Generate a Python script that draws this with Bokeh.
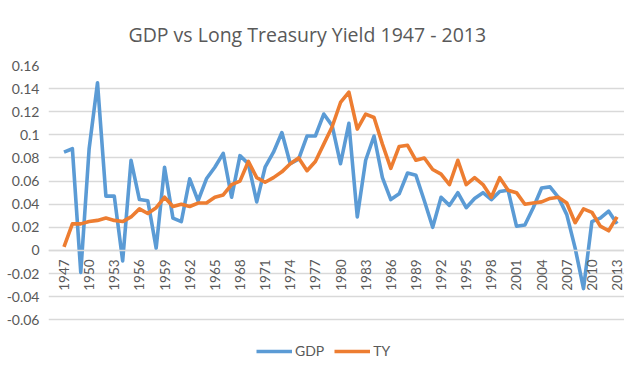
import math
from bokeh.plotting import figure
from bokeh.models import (Range1d, FixedTicker, PrintfTickFormatter, Legend, LegendItem)
from bokeh.embed import file_html
from bokeh.resources import INLINE

years = list(range(1947, 2014))
gdp = [0.085, 0.088, -0.019, 0.088, 0.145, 0.047, 0.047, -0.009, 0.078, 0.044,
       0.043, 0.002, 0.072, 0.028, 0.025, 0.062, 0.043, 0.062, 0.072, 0.084,
       0.046, 0.082, 0.075, 0.042, 0.072, 0.085, 0.102, 0.075, 0.079, 0.099,
       0.099, 0.118, 0.108, 0.075, 0.110, 0.029, 0.078, 0.099, 0.063, 0.044,
       0.049, 0.067, 0.065, 0.043, 0.020, 0.046, 0.039, 0.050, 0.037, 0.045,
       0.050, 0.044, 0.051, 0.052, 0.021, 0.022, 0.037, 0.054, 0.055, 0.046,
       0.031, 0.002, -0.033, 0.025, 0.028, 0.034, 0.023]
ty = [0.003, 0.023, 0.023, 0.025, 0.026, 0.028, 0.026, 0.025, 0.029, 0.036,
      0.032, 0.037, 0.046, 0.038, 0.040, 0.038, 0.041, 0.041, 0.046, 0.048,
      0.057, 0.060, 0.077, 0.063, 0.059, 0.063, 0.068, 0.075, 0.080, 0.069,
      0.077, 0.092, 0.107, 0.128, 0.137, 0.105, 0.118, 0.115, 0.092, 0.071,
      0.090, 0.091, 0.078, 0.080, 0.070, 0.066, 0.057, 0.078, 0.057, 0.063,
      0.057, 0.046, 0.063, 0.052, 0.050, 0.040, 0.041, 0.042, 0.045, 0.046,
      0.041, 0.024, 0.036, 0.033, 0.021, 0.017, 0.029]
x_ticks = list(range(1947, 2014, 3))
y_ticks = [-0.06, -0.04, -0.02, 0, 0.02, 0.04, 0.06, 0.08, 0.1, 0.12, 0.14, 0.16]

FONT = "Lato"
TFONT = "Open Sans"
GREY = "#595959"
GRID = "#d9d9d9"

p = figure(width=624, height=363, output_backend="svg", toolbar_location=None,
           x_range=Range1d(1945.15, 2013.89), y_range=Range1d(-0.0978, 0.16),
           min_border_left=48, min_border_right=0, min_border_top=65,
           min_border_bottom=0)
p.outline_line_color = None
p.background_fill_color = "white"
p.border_fill_color = "white"

p.title.text = "GDP vs Long Treasury Yield 1947 - 2013"
p.title.align = "left"
p.title.offset = 80
p.title.text_font = TFONT
p.title.text_font_size = "19.5px"
p.title.text_font_style = "normal"
p.title.text_color = GREY
p.title.standoff = 36

p.xgrid.grid_line_color = None
p.ygrid.grid_line_color = GRID
p.ygrid.grid_line_width = 1.3
p.ygrid.ticker = FixedTicker(ticks=y_ticks)

xa = p.xaxis[0]
xa.ticker = FixedTicker(ticks=x_ticks)
xa.fixed_location = 0
xa.major_label_orientation = math.pi / 2
xa.axis_line_color = GRID
xa.axis_line_width = 1.3
xa.major_tick_out = 0
xa.major_tick_in = 0
xa.minor_tick_line_color = None
xa.major_label_standoff = 9
xa.major_label_text_font = FONT
xa.major_label_text_font_size = "13.5px"
xa.major_label_text_color = GREY

ya = p.yaxis[0]
ya.ticker = FixedTicker(ticks=y_ticks)
ya.formatter = PrintfTickFormatter(format="%g")
ya.axis_line_color = None
ya.major_tick_line_color = None
ya.minor_tick_line_color = None
ya.major_label_standoff = 3
ya.major_label_text_font = FONT
ya.major_label_text_font_size = "14px"
ya.major_label_text_color = GREY

r1 = p.line(years, gdp, line_color="#5B9BD5", line_width=3.6, line_join="round")
r2 = p.line(years, ty, line_color="#ED7D31", line_width=3.6, line_join="round")

legend = Legend(items=[LegendItem(label="GDP", renderers=[r1]),
                       LegendItem(label="TY", renderers=[r2])],
                orientation="horizontal", location=(208, 4),
                glyph_width=36, glyph_height=14, label_height=14,
                label_standoff=3, spacing=10,
                padding=0, margin=0, border_line_color=None,
                background_fill_alpha=0,
                label_text_font=FONT, label_text_font_size="14px",
                label_text_color=GREY)
p.add_layout(legend, "center")

open("out.html", "w").write(file_html(p, INLINE))
